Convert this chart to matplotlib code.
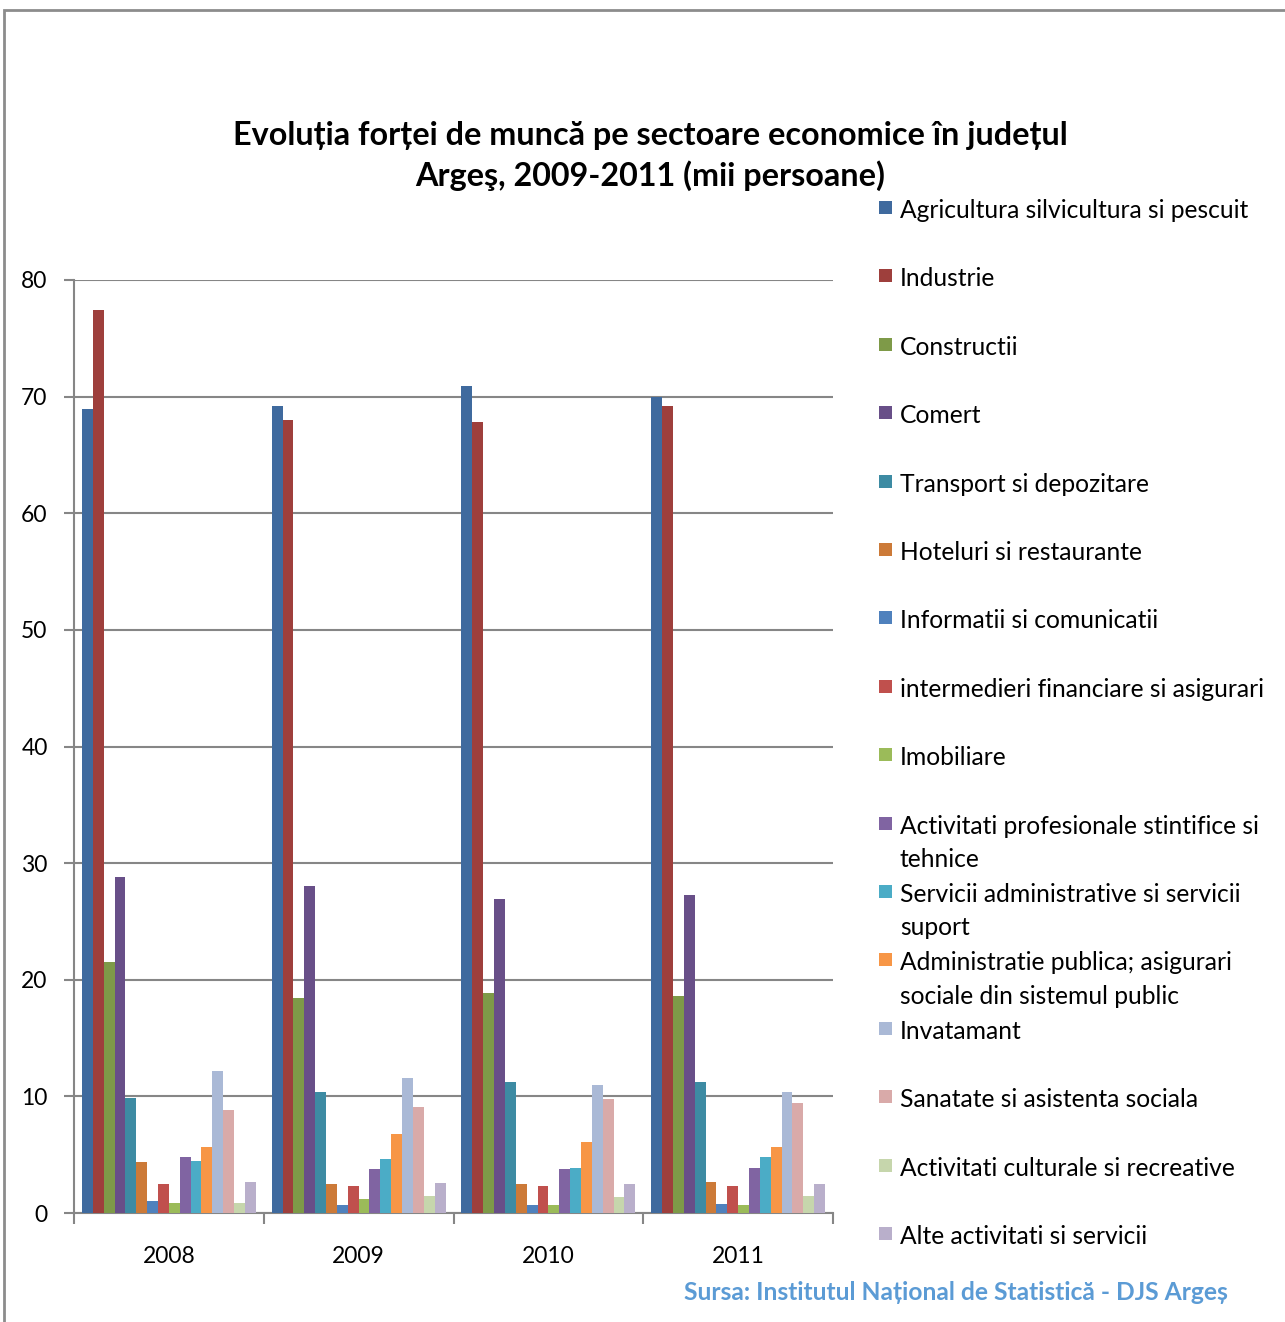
import numpy as np
import matplotlib.pyplot as plt
from matplotlib.patches import Rectangle

plt.rcParams['font.family'] = ['Lato', 'DejaVu Sans']

# date (mii persoane)
years = ['2008', '2009', '2010', '2011']
sectors = [
    'Agricultura silvicultura si pescuit',
    'Industrie',
    'Constructii',
    'Comert',
    'Transport si depozitare',
    'Hoteluri si restaurante',
    'Informatii si comunicatii',
    'intermedieri financiare si asigurari',
    'Imobiliare',
    'Activitati profesionale stintifice si\ntehnice',
    'Servicii administrative si servicii\nsuport',
    'Administratie publica; asigurari\nsociale din sistemul public',
    'Invatamant',
    'Sanatate si asistenta sociala',
    'Activitati culturale si recreative',
    'Alte activitati si servicii',
]
values_2008 = [68.9, 77.4, 21.5, 28.8, 9.9, 4.4, 1.0, 2.5, 0.9, 4.8, 4.5, 5.7, 12.2, 8.8, 0.9, 2.7]
values_2009 = [69.2, 68.0, 18.4, 28.0, 10.4, 2.5, 0.7, 2.3, 1.2, 3.8, 4.6, 6.8, 11.6, 9.1, 1.5, 2.6]
values_2010 = [70.9, 67.8, 18.9, 26.9, 11.2, 2.5, 0.7, 2.3, 0.7, 3.8, 3.9, 6.1, 11.0, 9.8, 1.4, 2.5]
values_2011 = [70.0, 69.2, 18.6, 27.3, 11.2, 2.7, 0.8, 2.3, 0.7, 3.9, 4.8, 5.7, 10.4, 9.4, 1.5, 2.5]
colors = ['#3F6A9E', '#9E3F3C', '#7E9A48', '#684F88', '#3D8BA3', '#CC7A38',
          '#4F81BD', '#C0504D', '#9BBB59', '#8064A2', '#4BACC6', '#F79646',
          '#AAB9D6', '#D9AAA9', '#C6D6AC', '#B9AFCB']

data = np.array([values_2008, values_2009, values_2010, values_2011])

W, H = 1285, 1322
fig = plt.figure(figsize=(W / 100, H / 100), dpi=100)

# rama graficului
fig.patches.append(Rectangle((4 / W, -0.1), 1.2, (H - 10) / H + 0.1,
                             transform=fig.transFigure, fill=False,
                             edgecolor='#8C8C8C', linewidth=2, clip_on=False))

ax = fig.add_axes([74 / W, (H - 1213) / H, (833 - 74) / W, (1213 - 280) / H])

n = len(sectors)
group_w = 0.916
bw = group_w / n
x = np.arange(len(years))
for i in range(n):
    ax.bar(x - group_w / 2 + bw * (i + 0.5), data[:, i], width=bw,
           color=colors[i], zorder=3)

ax.set_xlim(-0.5, 3.5)
ax.set_ylim(0, 80)
ax.set_yticks(range(0, 81, 10))
ax.grid(axis='y', color='#868686', linewidth=1.5, zorder=0)
ax.set_xticks(x)
ax.set_xticklabels(years)
ax.set_xticks(np.arange(-0.5, 3.6, 1), minor=True)
ax.tick_params(axis='x', which='major', length=0, pad=24, labelsize=16.5)
ax.tick_params(axis='x', which='minor', length=8, width=1.5, color='#868686', direction='out')
ax.tick_params(axis='y', length=7, width=1.5, color='#868686', pad=12, labelsize=16.5)
for s in ['top', 'right']:
    ax.spines[s].set_visible(False)
for s in ['left', 'bottom']:
    ax.spines[s].set_color('#868686')
    ax.spines[s].set_linewidth(1.5)

fig.text(650 / W, 1 - 156 / H,
         'Evoluția forței de muncă pe sectoare economice în județul\nArgeş, 2009-2011 (mii persoane)',
         ha='center', va='center', fontsize=23.3, fontweight='bold', linespacing=1.37)

# legenda
for i, (name, c) in enumerate(zip(sectors, colors)):
    yc = 208 + i * 68.4
    fig.patches.append(Rectangle((879 / W, 1 - (yc + 6) / H), 13 / W, 13 / H,
                                 transform=fig.transFigure, facecolor=c, edgecolor='none'))
    fig.text(900 / W, 1 - (yc - 9) / H, name, ha='left', va='top',
             fontsize=17.7, linespacing=1.55)

fig.text(1228 / W, 1 - 1292 / H,
         'Sursa: Institutul Național de Statistică - DJS Argeș',
         ha='right', va='center', fontsize=17.7, fontweight='bold', color='#5B9BD5')

fig.savefig('out.png', dpi=100)
